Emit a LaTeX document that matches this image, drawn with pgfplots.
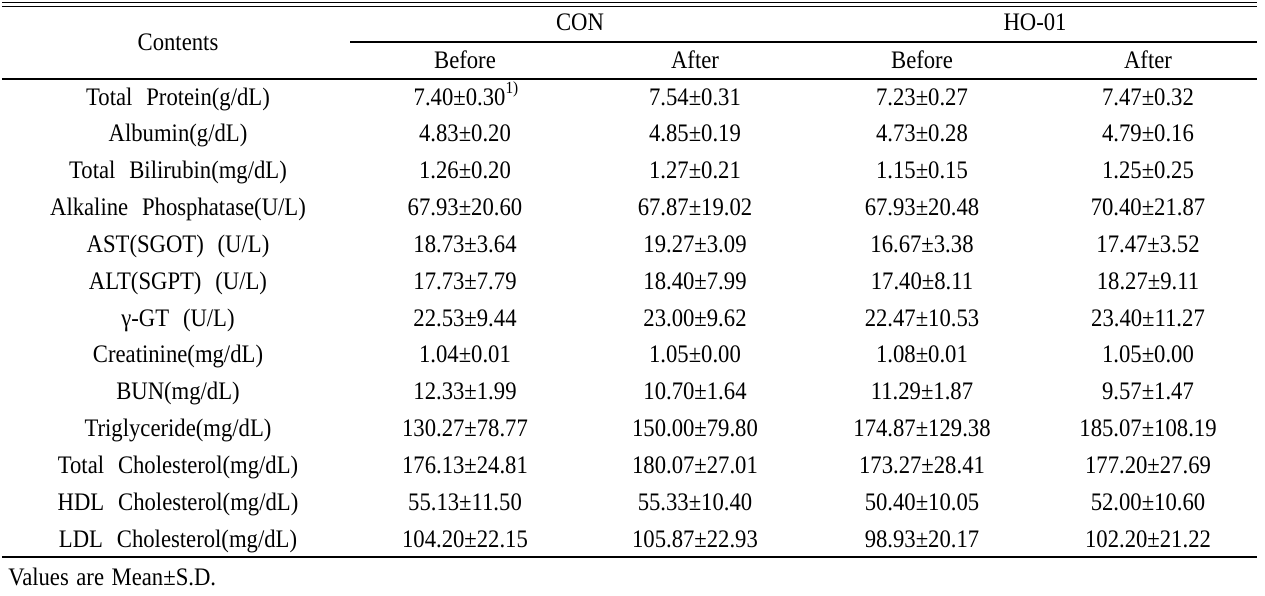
\documentclass[border=0pt]{standalone}
\usepackage{fontspec}
\setmainfont[FakeStretch=0.9]{Liberation Serif}
\usepackage{pgfplots}
\pgfplotsset{compat=1.18}
\newcommand{\ws}{\hspace{0.55em}}
\tikzset{cell/.style={font=\fontsize{12.6}{14}\selectfont, inner sep=0pt, anchor=base}}
\begin{document}
\begin{tikzpicture}
\begin{axis}[width=632.5pt,height=297.5pt,scale only axis,
  xmin=0,xmax=1265,ymin=0,ymax=595,y dir=reverse,hide axis,clip=false]
% rules
\addplot[black, line width=0.7pt] coordinates {(2,2.5) (1257,2.5)};
\addplot[black, line width=0.7pt] coordinates {(2,6.5) (1257,6.5)};
\addplot[black, line width=0.7pt] coordinates {(350,42) (1257,42)};
\addplot[black, line width=0.7pt] coordinates {(2,79) (1257,79)};
\addplot[black, line width=0.7pt] coordinates {(2,557) (1257,557)};
\path (axis cs:0,0) rectangle (axis cs:1265,595);
% header
\node[cell] at (axis cs:178,50.5) {Contents};
\node[cell] at (axis cs:580,30.5) {CON};
\node[cell] at (axis cs:1035,30.5) {HO-01};
\node[cell] at (axis cs:465,68.5) {Before};
\node[cell] at (axis cs:695,68.5) {After};
\node[cell] at (axis cs:922,68.5) {Before};
\node[cell] at (axis cs:1148,68.5) {After};
% rows
\node[cell] at (axis cs:178,105) {Total\ws Protein(g/dL)};
\node[cell] at (axis cs:466,105) {7.40±0.30\raisebox{0.45em}{\fontsize{8.5}{9}\selectfont 1)}};
\node[cell] at (axis cs:695,105) {7.54±0.31};
\node[cell] at (axis cs:922,105) {7.23±0.27};
\node[cell] at (axis cs:1148,105) {7.47±0.32};

\node[cell] at (axis cs:178,141.8) {Albumin(g/dL)};
\node[cell] at (axis cs:465,141.8) {4.83±0.20};
\node[cell] at (axis cs:695,141.8) {4.85±0.19};
\node[cell] at (axis cs:922,141.8) {4.73±0.28};
\node[cell] at (axis cs:1148,141.8) {4.79±0.16};

\node[cell] at (axis cs:178,178.7) {Total\ws Bilirubin(mg/dL)};
\node[cell] at (axis cs:465,178.7) {1.26±0.20};
\node[cell] at (axis cs:695,178.7) {1.27±0.21};
\node[cell] at (axis cs:922,178.7) {1.15±0.15};
\node[cell] at (axis cs:1148,178.7) {1.25±0.25};

\node[cell] at (axis cs:178,215.5) {Alkaline\ws Phosphatase(U/L)};
\node[cell] at (axis cs:465,215.5) {67.93±20.60};
\node[cell] at (axis cs:695,215.5) {67.87±19.02};
\node[cell] at (axis cs:922,215.5) {67.93±20.48};
\node[cell] at (axis cs:1148,215.5) {70.40±21.87};

\node[cell] at (axis cs:178,252.3) {AST(SGOT)\ws (U/L)};
\node[cell] at (axis cs:465,252.3) {18.73±3.64};
\node[cell] at (axis cs:695,252.3) {19.27±3.09};
\node[cell] at (axis cs:922,252.3) {16.67±3.38};
\node[cell] at (axis cs:1148,252.3) {17.47±3.52};

\node[cell] at (axis cs:178,289.2) {ALT(SGPT)\ws (U/L)};
\node[cell] at (axis cs:465,289.2) {17.73±7.79};
\node[cell] at (axis cs:695,289.2) {18.40±7.99};
\node[cell] at (axis cs:922,289.2) {17.40±8.11};
\node[cell] at (axis cs:1148,289.2) {18.27±9.11};

\node[cell] at (axis cs:178,326) {γ-GT\ws (U/L)};
\node[cell] at (axis cs:465,326) {22.53±9.44};
\node[cell] at (axis cs:695,326) {23.00±9.62};
\node[cell] at (axis cs:922,326) {22.47±10.53};
\node[cell] at (axis cs:1148,326) {23.40±11.27};

\node[cell] at (axis cs:178,362.8) {Creatinine(mg/dL)};
\node[cell] at (axis cs:465,362.8) {1.04±0.01};
\node[cell] at (axis cs:695,362.8) {1.05±0.00};
\node[cell] at (axis cs:922,362.8) {1.08±0.01};
\node[cell] at (axis cs:1148,362.8) {1.05±0.00};

\node[cell] at (axis cs:178,399.7) {BUN(mg/dL)};
\node[cell] at (axis cs:465,399.7) {12.33±1.99};
\node[cell] at (axis cs:695,399.7) {10.70±1.64};
\node[cell] at (axis cs:922,399.7) {11.29±1.87};
\node[cell] at (axis cs:1148,399.7) {9.57±1.47};

\node[cell] at (axis cs:178,436.5) {Triglyceride(mg/dL)};
\node[cell] at (axis cs:465,436.5) {130.27±78.77};
\node[cell] at (axis cs:695,436.5) {150.00±79.80};
\node[cell] at (axis cs:922,436.5) {174.87±129.38};
\node[cell] at (axis cs:1148,436.5) {185.07±108.19};

\node[cell] at (axis cs:178,473.3) {Total\ws Cholesterol(mg/dL)};
\node[cell] at (axis cs:465,473.3) {176.13±24.81};
\node[cell] at (axis cs:695,473.3) {180.07±27.01};
\node[cell] at (axis cs:922,473.3) {173.27±28.41};
\node[cell] at (axis cs:1148,473.3) {177.20±27.69};

\node[cell] at (axis cs:178,510.2) {HDL\ws Cholesterol(mg/dL)};
\node[cell] at (axis cs:465,510.2) {55.13±11.50};
\node[cell] at (axis cs:695,510.2) {55.33±10.40};
\node[cell] at (axis cs:922,510.2) {50.40±10.05};
\node[cell] at (axis cs:1148,510.2) {52.00±10.60};

\node[cell] at (axis cs:178,547) {LDL\ws Cholesterol(mg/dL)};
\node[cell] at (axis cs:465,547) {104.20±22.15};
\node[cell] at (axis cs:695,547) {105.87±22.93};
\node[cell] at (axis cs:922,547) {98.93±20.17};
\node[cell] at (axis cs:1148,547) {102.20±21.22};

\node[cell, anchor=base west] at (axis cs:8,585) {Values\hspace{0.3em}are\hspace{0.3em}Mean±S.D.};
\end{axis}
\end{tikzpicture}
\end{document}
